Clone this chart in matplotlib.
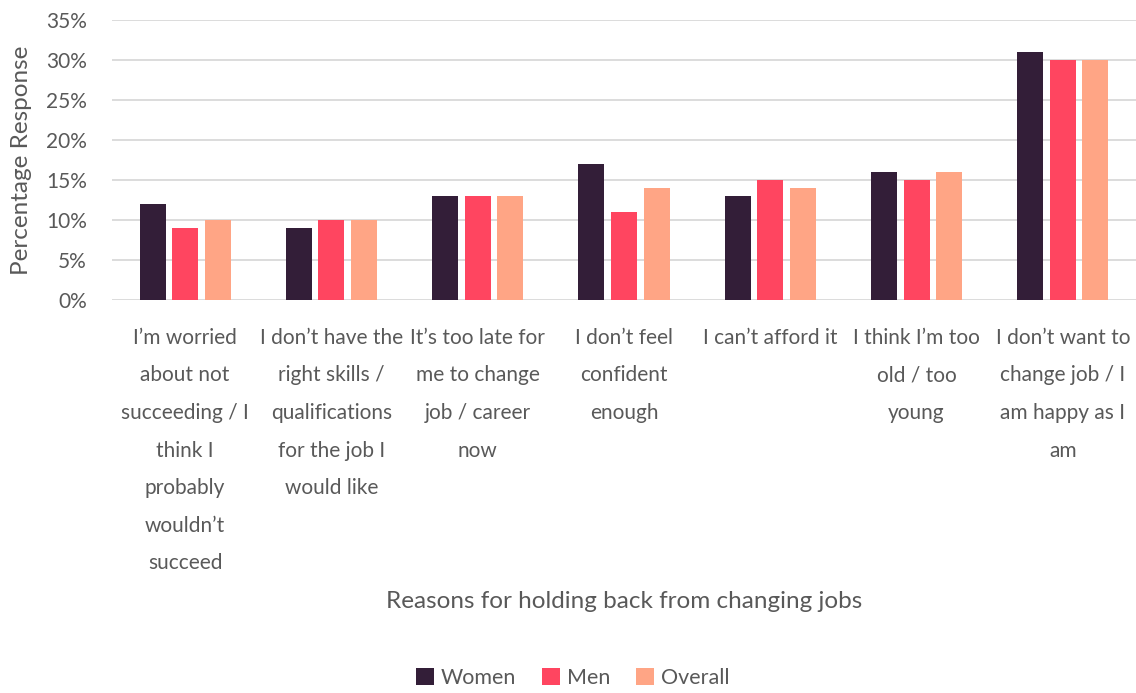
import numpy as np
import matplotlib.pyplot as plt

plt.rcParams['font.family'] = ['Lato', 'DejaVu Sans']

categories = [
    "I'm worried\nabout not\nsucceeding / I\nthink I\nprobably\nwouldn't\nsucceed",
    "I don't have the\nright skills /\nqualifications\nfor the job I\nwould like",
    "It's too late for\nme to change\njob / career\nnow",
    "I don't feel\nconfident\nenough",
    "I can't afford it",
    "I think I'm too\nold / too\nyoung",
    "I don't want to\nchange job / I\nam happy as I\nam",
]
categories = [c.replace("'", "\u2019") for c in categories]
women = [12, 9, 13, 17, 13, 16, 31]
men = [9, 10, 13, 11, 15, 15, 30]
overall = [10, 10, 13, 14, 14, 16, 30]
series = [("Women", women, "#331E38"), ("Men", men, "#FF4560"), ("Overall", overall, "#FFA585")]

TXT = "#595959"
FS = 15
fig = plt.figure(figsize=(11.36, 6.93), dpi=100)
ax = fig.add_axes([112/1136, 1-300/693, 1024/1136, 280/693])

x = np.arange(len(categories))
w = 0.178
step = 0.223
for i, (name, vals, col) in enumerate(series):
    ax.bar(x + (i-1)*step, vals, w, color=col, label=name, zorder=3)

ax.set_xlim(-0.5, len(categories)-0.5)
ax.set_ylim(0, 35)
ax.set_yticks(range(0, 36, 5))
ax.set_yticklabels([f"{v}%" for v in range(0, 36, 5)])
ax.yaxis.grid(True, color="#D9D9D9", linewidth=1.3, zorder=0)
for s in ax.spines.values():
    s.set_visible(False)
ax.tick_params(axis="y", length=0, labelsize=FS, labelcolor=TXT, pad=18)
ax.tick_params(axis="x", length=0, labelsize=FS, labelcolor=TXT, pad=20)
ax.set_xticks(x)
ax.set_xticklabels(categories, linespacing=2.1, va="top")
ax.set_ylabel("Percentage Response", fontsize=17.5, color=TXT, labelpad=10)
ax.set_xlabel("Reasons for holding back from changing jobs", fontsize=17.5, color=TXT, labelpad=13)

fig.legend(loc="center", bbox_to_anchor=(573/1136, 1-678/693), ncol=3, frameon=False,
           fontsize=15.5, labelcolor=TXT, handlelength=0.8, handleheight=0.8,
           columnspacing=1.2, handletextpad=0.35)

fig.savefig("out.png", dpi=100)
